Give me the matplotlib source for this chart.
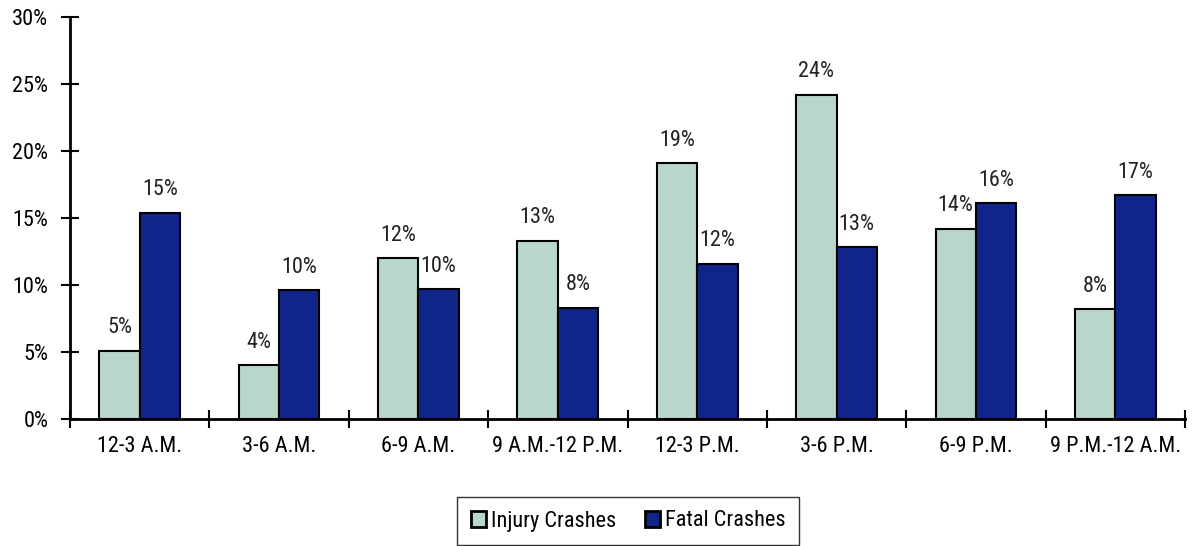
import matplotlib
matplotlib.use("Agg")
import matplotlib.pyplot as plt
from matplotlib import font_manager
import numpy as np

periods = ["12-3 A.M.", "3-6 A.M.", "6-9 A.M.", "9 A.M.-12 P.M.",
           "12-3 P.M.", "3-6 P.M.", "6-9 P.M.", "9 P.M.-12 A.M."]
injury = [5.1, 4.0, 12.0, 13.3, 19.1, 24.2, 14.2, 8.2]
fatal = [15.4, 9.6, 9.7, 8.3, 11.6, 12.8, 16.1, 16.7]
series_names = ["Injury Crashes", "Fatal Crashes"]
y_ticks = [0, 5, 10, 15, 20, 25, 30]


def pick_font():
    """Prefer a narrow sans face when one is installed."""
    fonts = font_manager.fontManager.ttflist
    names = {f.name for f in fonts}
    for cand in ("Liberation Sans Narrow", "Arial Narrow", "Roboto Condensed",
                 "Open Sans Condensed", "DejaVu Sans Condensed"):
        if cand in names:
            return cand, "normal"
    for f in fonts:
        if f.name in ("Noto Sans", "Roboto", "Open Sans", "DejaVu Sans") and \
                f.stretch in ("condensed", "semi-condensed", 62.5, 75, 87.5) and f.weight in (400, "normal", "regular"):
            return f.name, "condensed"
    return "Liberation Sans", "normal"


FONT, STRETCH = pick_font()
plt.rcParams["font.family"] = [FONT, "Liberation Sans", "DejaVu Sans"]
plt.rcParams["font.stretch"] = STRETCH
plt.rcParams["font.size"] = 16

fig = plt.figure(figsize=(11.95, 5.46), dpi=100)
ax = fig.add_axes([70 / 1195, 127 / 546, 1115 / 1195, 402 / 546])

x = np.arange(len(periods))
w = 0.29
b1 = ax.bar(x - w / 2, injury, w, color="#B9D6CA", edgecolor="black",
            linewidth=1.5, label=series_names[0])
b2 = ax.bar(x + w / 2, fatal, w, color="#10258A", edgecolor="black",
            linewidth=1.5, label=series_names[1])

for bars, vals in ((b1, injury), (b2, fatal)):
    for rect, v in zip(bars, vals):
        ax.annotate(f"{round(v)}%", (rect.get_x() + rect.get_width() / 2, v),
                    xytext=(0, 9), textcoords="offset points",
                    ha="center", va="bottom", fontsize=16, color="#222222")

ax.set_xlim(-0.5, len(periods) - 0.5)
ax.set_ylim(0, 30)
ax.set_yticks(y_ticks)
ax.set_yticklabels([f"{t}%" for t in y_ticks])

ax.set_xticks(np.arange(len(periods) + 1) - 0.5)
ax.set_xticklabels([])
ax.set_xticks(x, minor=True)
ax.set_xticklabels(periods, minor=True)
ax.tick_params(axis="x", which="major", direction="inout", length=13, width=1.5)
ax.tick_params(axis="x", which="minor", length=0, pad=12, labelsize=16)
ax.tick_params(axis="y", direction="inout", length=13, width=1.5, pad=9, labelsize=16)

for s in ("top", "right"):
    ax.spines[s].set_visible(False)
for s in ("left", "bottom"):
    ax.spines[s].set_linewidth(2)

leg = fig.legend(loc="center", bbox_to_anchor=(628 / 1195, 1 - 521 / 546),
                 ncol=2, frameon=True, fancybox=False, edgecolor="black",
                 handlelength=0.7, handleheight=0.7, handletextpad=0.2,
                 columnspacing=1.3, borderpad=0.6, fontsize=16,
                 borderaxespad=0)
leg.get_frame().set_linewidth(1.0)
for h in leg.legend_handles:
    h.set_linewidth(2)

fig.savefig("out.png", dpi=100)
